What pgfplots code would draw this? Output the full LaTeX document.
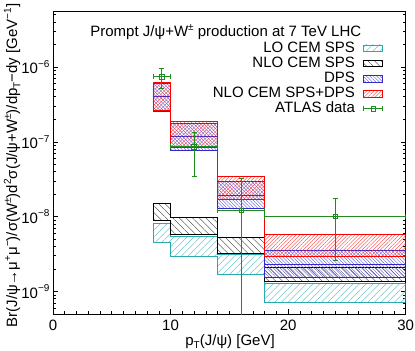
\documentclass[border=0pt]{standalone}
\usepackage{fontspec}
\setmainfont{Liberation Sans}
\usepackage{pgfplots}
\pgfplotsset{compat=1.18}
\usetikzlibrary{patterns.meta}

\definecolor{cLO}{RGB}{40,170,175}
\definecolor{cNLO}{RGB}{0,0,0}
\definecolor{cDPS}{RGB}{50,40,200}
\definecolor{cSUM}{RGB}{255,0,0}
\definecolor{cATL}{RGB}{30,140,30}

\newcommand{\F}{\fontsize{15bp}{18bp}\selectfont}
\newcommand{\Sp}[1]{\raisebox{0.42em}{\fontsize{10bp}{10bp}\selectfont #1}}
\newcommand{\Sb}[1]{\raisebox{-0.22em}{\fontsize{10bp}{10bp}\selectfont #1}}

\pgfplotsset{
  hatchlegend/.style={legend image code/.code={\draw[##1] (0bp,-3.4bp) rectangle (19bp,3.4bp);}},
}

\begin{document}
\begin{tikzpicture}
\path[use as bounding box] (-53bp,-37bp) rectangle (362bp,314bp);
\begin{axis}[
  scale only axis, width=352.7bp, height=303bp,
  at={(0,0)}, anchor=south west,
  xmin=0, xmax=30, ymode=log, ymin=5e-10, ymax=5.6e-6,
  xtick={0,10,20,30}, minor x tick num=9,
  xtick pos=bottom, ytick pos=both,
  tick align=inside,
  major tick length=5bp, minor tick length=3bp,
  /pgf/number format/assume math mode=true,
  ticklabel style={font=\F},
  xticklabel style={yshift=-2bp},
  yticklabel={\pgfmathparse{int(round(-\tick/ln(10)))}10\Sp{−\pgfmathresult}},
  axis line style={line width=0.8bp},
  every tick/.style={black, line width=0.6bp},
  label style={font=\F},
  xlabel={p\Sb{T}(J/ψ) [GeV]},
  xlabel style={at={(axis description cs:0.502,-0.092)}, anchor=center},
  ylabel={Br(J/ψ→μ\Sp{+}μ\Sp{−})/σ(W\Sp{±})d\Sp{2}σ(J/ψ+W\Sp{±})/dp\Sb{T}−dy [GeV\Sp{−1}]},
  ylabel style={at={(axis description cs:-0.116,0.49)}, anchor=center},
  legend style={draw=none, fill=none, at={(0.937,0.902)}, anchor=north east,
    inner sep=0pt, row sep=0.3bp, column sep=8bp, font=\F,
    nodes={inner sep=0.5bp, text height=10.8bp, text depth=3bp}},
  legend cell align=right, legend plot pos=right,
]
% LO CEM SPS
\addplot[draw=cLO, line width=0.8bp, pattern={Lines[angle=45,distance=4.7bp,line width=0.35bp]}, pattern color=cLO!85!white, hatchlegend]
 coordinates {(8.5,8.2e-9) (10,8.2e-9) (10,5.5e-9) (14,5.5e-9) (14,3.14e-9) (18,3.14e-9) (18,1.3e-9) (30,1.3e-9)
  (30,7.1e-10) (18,7.1e-10) (18,1.7e-9) (14,1.7e-9) (14,2.95e-9) (10,2.95e-9) (10,4.5e-9) (8.5,4.5e-9)} --cycle;
\addlegendentry{LO CEM SPS}
% NLO CEM SPS
\addplot[draw=cNLO, line width=0.8bp, pattern={Lines[angle=-45,distance=4.7bp,line width=0.35bp]}, pattern color=cNLO!80!white, hatchlegend]
 coordinates {(8.5,1.5e-8) (10,1.5e-8) (10,9.7e-9) (14,9.7e-9) (14,5.25e-9) (18,5.25e-9) (18,2.13e-9) (30,2.13e-9)
  (30,1.37e-9) (18,1.37e-9) (18,3.2e-9) (14,3.2e-9) (14,5.8e-9) (10,5.8e-9) (10,8.95e-9) (8.5,8.95e-9)} --cycle;
\addlegendentry{NLO CEM SPS}
% DPS
\addplot[draw=cDPS, line width=0.8bp, pattern={Lines[angle=-45,distance=2.4bp,line width=0.35bp]}, pattern color=cDPS!85!white, hatchlegend]
 coordinates {(8.5,6.05e-7) (10,6.05e-7) (10,1.77e-7) (14,1.77e-7) (14,2.92e-8) (18,2.92e-8) (18,3.49e-9) (30,3.49e-9)
  (30,1.52e-9) (18,1.52e-9) (18,1.28e-8) (14,1.28e-8) (14,7.7e-8) (10,7.7e-8) (10,2.58e-7) (8.5,2.58e-7)} --cycle;
\addlegendentry{DPS}
\addplot[draw=cDPS, line width=0.8bp, forget plot]
 coordinates {(8.5,4.1e-7) (10,4.1e-7) (10,1.19e-7) (14,1.19e-7) (14,1.94e-8) (18,1.94e-8) (18,2.3e-9) (30,2.3e-9)};
% NLO CEM SPS + DPS
\addplot[draw=cSUM, line width=0.8bp, pattern={Lines[angle=45,distance=2.6bp,line width=0.35bp]}, pattern color=cSUM!80!white, hatchlegend]
 coordinates {(8.5,6.2e-7) (10,6.2e-7) (10,1.87e-7) (14,1.87e-7) (14,3.4e-8) (18,3.4e-8) (18,5.78e-9) (30,5.78e-9)
  (30,2.9e-9) (18,2.9e-9) (18,1.7e-8) (14,1.7e-8) (14,8.3e-8) (10,8.3e-8) (10,2.67e-7) (8.5,2.67e-7)} --cycle;
\addlegendentry{NLO CEM SPS+DPS}
% ATLAS data
\addplot[cATL, only marks, mark=square, mark size=2.2bp, line width=0.8bp,
  error bars/.cd, x dir=both, x explicit, y dir=both, y explicit,
  error mark options={rotate=90, mark size=2.5bp, line width=0.8bp, cATL},
  error bar style={line width=0.8bp, cATL},
  /pgfplots/.cd,
  legend image code/.code={
    \draw[cATL, line width=0.8bp] (0bp,0bp) -- (19bp,0bp);
    \draw[cATL, line width=0.8bp] (0bp,-2.5bp) -- (0bp,2.5bp);
    \draw[cATL, line width=0.8bp] (19bp,-2.5bp) -- (19bp,2.5bp);
    \draw[cATL, line width=0.8bp] (7.3bp,-2.2bp) rectangle (11.7bp,2.2bp);
  }]
 coordinates {
  (9.25,7.4e-7) += (0.75,2.2e-7) -= (0.75,2.3e-7)
  (12,8.6e-8) += (2,4.6e-8) -= (2,5.1e-8)
  (16,1.22e-8) += (2,2.02e-8) -= (2,0)
  (24,1.0e-8) += (6,0.78e-8) -= (6,0.74e-8)
 };
\addlegendentry{ATLAS data}
\addplot[cATL, line width=0.8bp, forget plot] coordinates {(16,1.22e-8) (16,1e-10)};
\node[font=\F] at (rel axis cs:0.49,0.93) {Prompt J/ψ+W\Sp{±} production at 7 TeV LHC};
\end{axis}
\end{tikzpicture}
\end{document}
